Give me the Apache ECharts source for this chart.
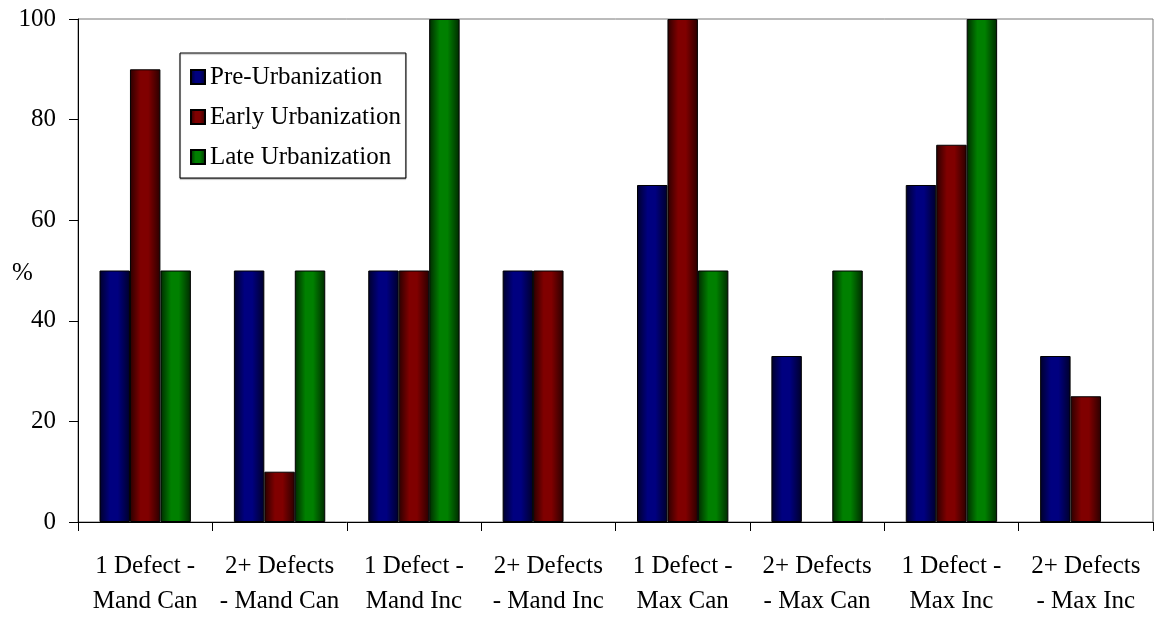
<!DOCTYPE html>
<html>
<head>
<meta charset="utf-8">
<style>
  html, body { margin: 0; padding: 0; background: #fff; }
  #chart { width: 1155px; height: 619px; }
</style>
<script src="https://cdn.jsdelivr.net/npm/echarts@6/dist/echarts.min.js"></script>
</head>
<body>
<div id="chart"></div>
<script>
// Share of cases (%) by defect class and urbanization stage
const categories = [
  '1 Defect -\nMand Can', '2+ Defects\n- Mand Can',
  '1 Defect -\nMand Inc', '2+ Defects\n- Mand Inc',
  '1 Defect -\nMax Can', '2+ Defects\n- Max Can',
  '1 Defect -\nMax Inc', '2+ Defects\n- Max Inc'
];
const preUrbanization   = [50, 50, 50, 50, 67, 33, 67, 33];
const earlyUrbanization = [90, 10, 50, 50, 100, 0, 75, 25];
const lateUrbanization  = [50, 50, 100, 0, 50, 50, 100, 0];
const yTicks = [0, 20, 40, 60, 80, 100];

const FONT = '"Liberation Serif", "Times New Roman", serif';
const FS = 25;

// Horizontal shading that gives each bar a rounded, cylinder-like look
function shade(dark, base, edge) {
  return new echarts.graphic.LinearGradient(0, 0, 1, 0, [
    { offset: 0, color: dark },
    { offset: 0.35, color: base },
    { offset: 0.6, color: base },
    { offset: 1, color: edge }
  ]);
}

function barSeries(name, data, fill) {
  return {
    name: name,
    type: 'bar',
    // zero-height bars carry no outline
    data: data.map(v => v === 0 ? { value: v, itemStyle: { borderWidth: 0 } } : v),
    barGap: '0%',
    barCategoryGap: '32%',
    itemStyle: { color: fill, borderColor: '#000', borderWidth: 1 }
  };
}

const chart = echarts.init(document.getElementById('chart'), null, { renderer: 'canvas' });

chart.setOption({
  animation: false,
  backgroundColor: '#fff',
  textStyle: { fontFamily: FONT, color: '#000' },
  grid: {
    left: 78, right: 2, top: 19, bottom: 92,
    show: true, borderColor: '#777', borderWidth: 1, backgroundColor: 'transparent'
  },
  legend: {
    orient: 'vertical',
    left: 180, top: 53,
    padding: [10, 5, 7, 10],
    itemGap: 12,
    itemWidth: 14, itemHeight: 14,
    icon: 'rect',
    itemTextGap: 11,
    backgroundColor: '#fff',
    borderColor: '#000', borderWidth: 1, borderRadius: 0,
    shadowColor: 'rgba(0,0,0,0.35)', shadowOffsetX: 0, shadowOffsetY: 1, shadowBlur: 1,
    textStyle: { fontFamily: FONT, fontSize: FS, color: '#000', lineHeight: 28 },
    data: ['Pre-Urbanization', 'Early Urbanization', 'Late Urbanization']
  },
  xAxis: {
    type: 'category',
    data: categories,
    boundaryGap: true,
    axisLine: { lineStyle: { color: '#000', width: 1 } },
    axisTick: { show: true, length: 9, alignWithLabel: false, lineStyle: { color: '#000' } },
    axisLabel: {
      interval: 0, margin: 27, fontFamily: FONT, fontSize: FS,
      lineHeight: 35, color: '#000'
    },
    splitLine: { show: false }
  },
  yAxis: {
    type: 'value',
    min: yTicks[0], max: yTicks[yTicks.length - 1], interval: 20,
    axisLine: { show: true, lineStyle: { color: '#000', width: 1 } },
    axisTick: { show: true, length: 9, lineStyle: { color: '#000' } },
    axisLabel: { margin: 22, fontFamily: FONT, fontSize: FS, color: '#000' },
    splitLine: { show: false }
  },
  graphic: [{
    type: 'text', left: 12, top: 261,
    style: { text: '%', font: FS + 'px ' + FONT, fill: '#000' }
  }],
  series: [
    barSeries('Pre-Urbanization', preUrbanization, shade('#00002a', '#000080', '#00002a')),
    barSeries('Early Urbanization', earlyUrbanization, shade('#2a0000', '#800000', '#2a0000')),
    barSeries('Late Urbanization', lateUrbanization, shade('#002a00', '#008000', '#002a00'))
  ]
});
</script>
</body>
</html>
